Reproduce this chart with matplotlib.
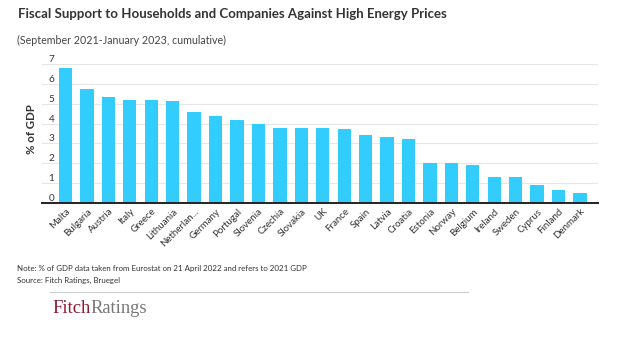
import matplotlib
matplotlib.use("Agg")
import matplotlib.pyplot as plt
from matplotlib.lines import Line2D

countries = ["Malta", "Bulgaria", "Austria", "Italy", "Greece", "Lithuania", "Netherlan...",
             "Germany", "Portugal", "Slovenia", "Czechia", "Slovakia", "UK", "France", "Spain",
             "Latvia", "Croatia", "Estonia", "Norway", "Belgium", "Ireland", "Sweden", "Cyprus",
             "Finland", "Denmark"]
values = [6.8, 5.74, 5.33, 5.21, 5.21, 5.13, 4.6, 4.4, 4.2, 4.0, 3.79, 3.79, 3.8, 3.72, 3.44,
          3.32, 3.23, 2.03, 2.03, 1.91, 1.30, 1.30, 0.90, 0.63, 0.51]
yticks = [0, 1, 2, 3, 4, 5, 6, 7]

title = "Fiscal Support to Households and Companies Against High Energy Prices"
subtitle = "(September 2021-January 2023, cumulative)"
note = "Note: % of GDP data taken from Eurostat on 21 April 2022 and refers to 2021 GDP"
source = "Source: Fitch Ratings, Bruegel"

plt.rcParams['font.family'] = ['Lato', 'DejaVu Sans']

W, H = 624, 339
fig = plt.figure(figsize=(W / 100, H / 100), dpi=100)
left, right, bottom, top = 41.7, 598, 202.7, 64.3
ax = fig.add_axes([left / W, 1 - bottom / H, (right - left) / W, (bottom - top) / H])

x = list(range(len(countries)))
ax.bar(x, values, width=0.62, color="#33CCFF", zorder=3)
ax.set_xlim(-1.11, 24.84)
ax.set_ylim(0, 7)

ax.set_yticks(yticks)
ax.set_yticklabels([str(t) for t in yticks])
ax.tick_params(axis='y', length=0, pad=-7, labelsize=7.2, labelcolor="#333333")
for lab in ax.get_yticklabels():
    lab.set_horizontalalignment('center')
    lab.set_verticalalignment('bottom')
ax.grid(axis='y', color="#e6e6e6", linewidth=0.8, zorder=0)

ax.set_xticks(x)
ax.set_xticklabels(countries, rotation=45, ha='right', rotation_mode='anchor',
                   fontsize=7, color="#333333")
ax.tick_params(axis='x', length=0, pad=3)

for s in ["top", "right", "left"]:
    ax.spines[s].set_visible(False)
ax.spines["bottom"].set_color("#222222")
ax.spines["bottom"].set_linewidth(1.4)
ax.spines["bottom"].set_zorder(4)

fig.text(31.7 / W, 1 - 129 / H, "% of GDP", rotation=90, ha='center', va='center',
         fontsize=8.3, fontweight='bold', color="#333333")

fig.text(18 / W, 1 - 14 / H, title, ha='left', va='center', fontsize=9.5,
         fontweight='bold', color="#333333")
fig.text(17 / W, 1 - 40 / H, subtitle, ha='left', va='center', fontsize=7.7, color="#444444")
fig.text(17 / W, 1 - 268 / H, note, ha='left', va='center', fontsize=5.7, color="#333333")
fig.text(17 / W, 1 - 280 / H, source, ha='left', va='center', fontsize=5.7, color="#333333")

fig.add_artist(Line2D([50 / W, 468 / W], [1 - 292 / H, 1 - 292 / H], color="#cccccc",
                      linewidth=0.8, transform=fig.transFigure))
t1 = fig.text(52 / W, 1 - 313 / H, "Fitch", ha='left', va='baseline', fontsize=13.3,
              family='Liberation Serif', color="#8B1A33")
fig.canvas.draw()
bb = t1.get_window_extent()
fig.text(bb.x1 / W, 1 - 313 / H, "Ratings", ha='left', va='baseline', fontsize=13.3,
         family='Liberation Serif', color="#777777")

fig.savefig("out.png", dpi=100)
